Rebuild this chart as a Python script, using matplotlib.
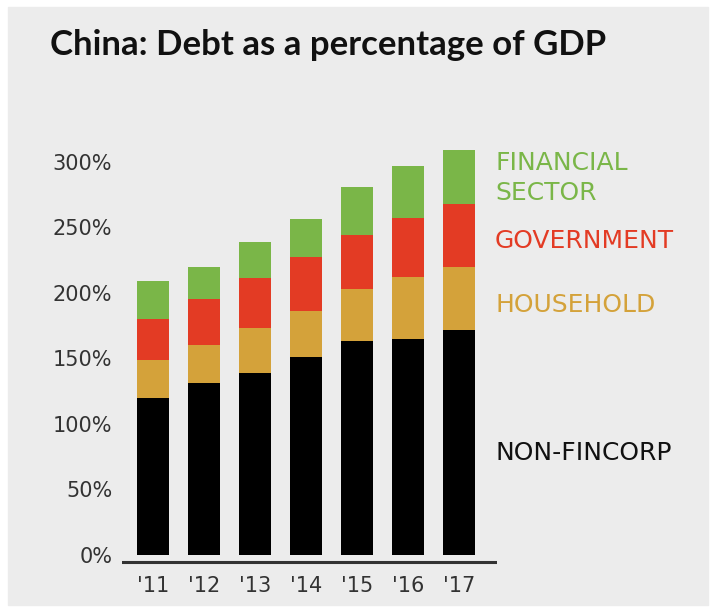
import numpy as np
import matplotlib.pyplot as plt
from matplotlib.patches import Rectangle

years = ["'11", "'12", "'13", "'14", "'15", "'16", "'17"]
non_fincorp = [120, 131, 139, 151, 163, 165, 172]
household   = [29, 29, 34, 35, 40, 47, 48]
government  = [31, 35, 38, 41, 41, 45, 48]
financial   = [29, 25, 28, 29, 37, 40, 41]
yticks = [0, 50, 100, 150, 200, 250, 300]

c_black = '#000000'
c_gold  = '#d4a23a'
c_red   = '#e33b24'
c_green = '#7ab648'
bg = '#ececec'

W, H = 715, 612
fig = plt.figure(figsize=(W / 100, H / 100), dpi=100, facecolor='white')
fig.patches.append(Rectangle((8 / W, 7 / H), 700 / W, 598 / H,
                             transform=fig.transFigure, color=bg, zorder=-5))

# axes placed so that 0% sits at y=555px and 300% at y=162px
ax = fig.add_axes([122 / W, (H - 568.1) / H, 375 / W, 432.6 / H])
ax.set_facecolor('none')
ax.set_xlim(-0.608, 6.745)
ax.set_ylim(-10, 320)

x = np.arange(len(years))
w = 0.61
b1 = np.array(non_fincorp)
b2 = b1 + np.array(household)
b3 = b2 + np.array(government)
ax.bar(x, non_fincorp, w, color=c_black)
ax.bar(x, household, w, bottom=b1, color=c_gold)
ax.bar(x, government, w, bottom=b2, color=c_red)
ax.bar(x, financial, w, bottom=b3, color=c_green)

ax.axhline(-5.3, color='#333333', lw=2.2)

for s in ax.spines.values():
    s.set_visible(False)
ax.set_yticks(yticks)
ax.set_yticklabels([f'{v}%' for v in yticks])
ax.set_xticks(x)
ax.set_xticklabels(years)
ax.tick_params(length=0, labelsize=15, colors='#333333')
ax.tick_params(axis='y', pad=7)
ax.tick_params(axis='x', pad=6)

fig.text(50 / W, 1 - 45 / H, 'China: Debt as a percentage of GDP',
         family=['Lato', 'DejaVu Sans'], weight='bold',
         fontsize=25, color='#111111', va='center', ha='left')

labels = [('FINANCIAL', 163, c_green), ('SECTOR', 193, c_green),
          ('GOVERNMENT', 241, c_red), ('HOUSEHOLD', 305, c_gold),
          ('NON-FINCORP', 453, '#111111')]
for txt, yy, col in labels:
    fig.text(495 / W, 1 - yy / H, txt, color=col, fontsize=18,
             va='center', ha='left')

plt.savefig('out.png', dpi=100, facecolor=fig.get_facecolor())
